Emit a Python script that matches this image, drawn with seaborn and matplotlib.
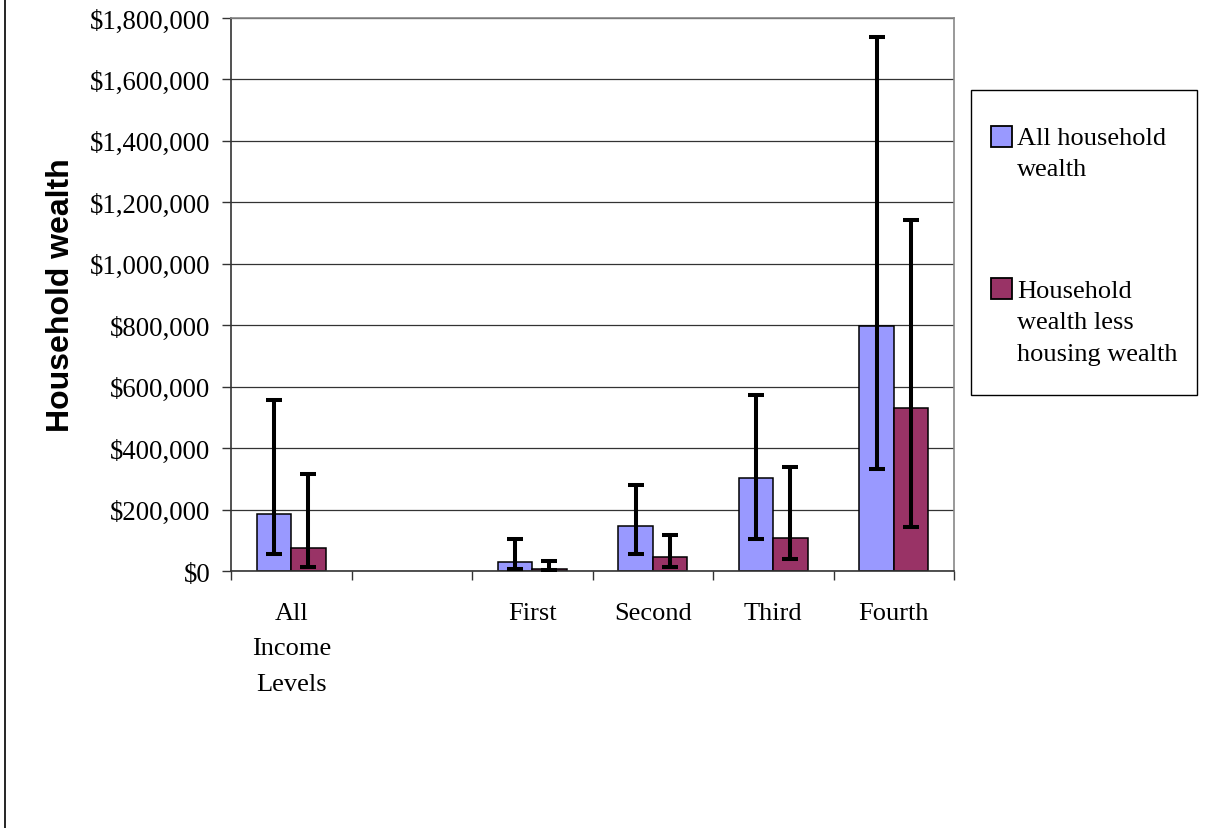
import matplotlib
matplotlib.use('Agg')
import matplotlib.pyplot as plt
from matplotlib.patches import Rectangle
from matplotlib.lines import Line2D
from matplotlib.ticker import FuncFormatter, MultipleLocator
import numpy as np
import pandas as pd
import seaborn as sns

# -----------------------------------------------------------------------
# Data
categories = ['All\nIncome\nLevels', ' ', 'First', 'Second', 'Third', 'Fourth']
groups = ['All\nIncome\nLevels', 'First', 'Second', 'Third', 'Fourth']
series = ['All household\nwealth', 'Household\nwealth less\nhousing wealth']

all_wealth = [186000, 28000, 145000, 303000, 798000]
all_low = [54000, 6000, 54000, 103000, 331000]
all_high = [557000, 103000, 281000, 572000, 1738000]

less_housing = [76000, 5000, 47000, 109000, 530000]
less_low = [13000, 2000, 12000, 40000, 144000]
less_high = [316000, 34000, 117000, 337000, 1143000]

colors = ['#9999FF', '#993366']

# -----------------------------------------------------------------------
# Long frame for seaborn
df = pd.DataFrame({
    'Income': groups * 2,
    'Series': [series[0]] * len(groups) + [series[1]] * len(groups),
    'Wealth': all_wealth + less_housing,
})

sns.set_style('white')
plt.rcParams['font.family'] = ['Liberation Serif', 'DejaVu Serif']
for key in ['text.color', 'axes.labelcolor', 'xtick.color', 'ytick.color']:
    plt.rcParams[key] = 'black'

fig = plt.figure(figsize=(12.32, 8.29), dpi=100)
ax = fig.add_axes([231 / 1232, 1 - 572 / 829, 723 / 1232, 553 / 829])

sns.barplot(data=df, x='Income', y='Wealth', hue='Series', order=categories,
            hue_order=series, palette=colors, saturation=1, width=0.57,
            errorbar=None, edgecolor='black', linewidth=1.1, legend=False,
            ax=ax)

# Error bars (asymmetric ranges) on top of seaborn's bars
for cont, vals, lo, hi in zip(ax.containers,
                              [all_wealth, less_housing],
                              [all_low, less_low],
                              [all_high, less_high]):
    xs = [b.get_x() + b.get_width() / 2 for b in cont]
    vals = np.array(vals)
    err = [vals - np.array(lo), np.array(hi) - vals]
    ax.errorbar(xs, vals, yerr=err, fmt='none', ecolor='black',
                elinewidth=2.9, capsize=5.8, capthick=2.9, zorder=5)

# Axes styling
ax.set_xlim(-0.5, 5.5)
ax.set_ylim(0, 1800000)
ax.yaxis.set_major_locator(MultipleLocator(200000))
ax.yaxis.set_major_formatter(FuncFormatter(lambda v, p: f'${v:,.0f}'))
ax.grid(axis='y', color='#333333', linewidth=0.9)
ax.set_axisbelow(True)

ax.set_xticks(np.arange(-0.5, 6, 1), minor=True)
ax.tick_params(axis='x', which='major', length=0, pad=22, labelsize=19)
ax.tick_params(axis='x', which='minor', length=6.5, width=1, direction='out',
               bottom=True, color='#333333')
ax.tick_params(axis='y', which='major', length=6.5, width=1, direction='out',
               left=True, pad=8.5, labelsize=19.3, color='#333333')
for lab in ax.get_xticklabels():
    lab.set_linespacing(1.82)

for side in ['left', 'bottom']:
    ax.spines[side].set_color('#333333')
    ax.spines[side].set_linewidth(1.2)
for side in ['top', 'right']:
    ax.spines[side].set_color('#888888')
    ax.spines[side].set_linewidth(1.2)

ax.set_xlabel('')
ax.set_ylabel('Household wealth', fontsize=23, fontweight='bold',
              family=['Liberation Sans', 'DejaVu Sans'])
ax.yaxis.set_label_coords(-0.215, 0.5)

# Legend box drawn like the spreadsheet one
W, H = 1232, 829
fig.add_artist(Rectangle((971 / W, 1 - 396 / H), 226 / W, 305 / H,
                         transform=fig.transFigure, facecolor='white',
                         edgecolor='black', linewidth=1))
for (ptop, ttop), lab, col in zip([(127, 128), (279, 281)], series, colors):
    fig.add_artist(Rectangle((991 / W, 1 - (ptop + 21) / H), 21 / W, 21 / H,
                             transform=fig.transFigure, facecolor=col,
                             edgecolor='black', linewidth=1.3))
    fig.text(1017 / W, 1 - ttop / H, lab, ha='left', va='top', fontsize=19,
             linespacing=1.55)

# Left border line of the chart area
fig.add_artist(Line2D([5 / W, 5 / W], [0, 1], transform=fig.transFigure,
                      color='black', linewidth=1.2))

fig.savefig('out.png', dpi=100, facecolor='white')
